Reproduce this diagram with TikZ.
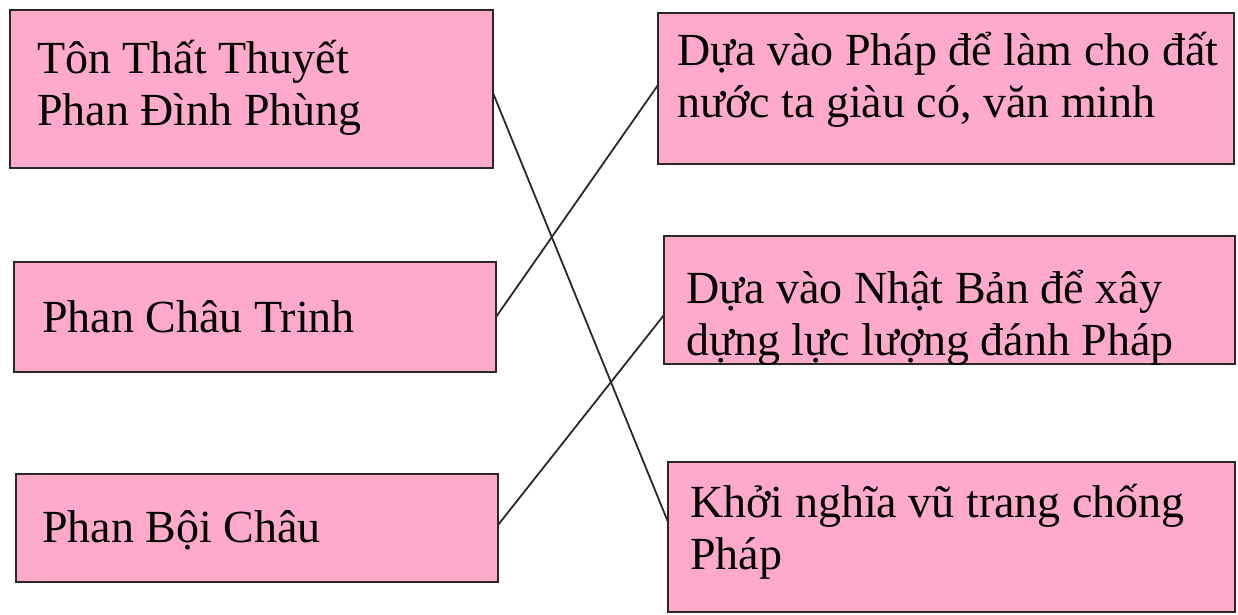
\documentclass[tikz,border=0pt]{standalone}
\usepackage{fontspec}
\setmainfont{Liberation Serif}
\definecolor{boxpink}{RGB}{255,170,202}
\definecolor{edgegray}{RGB}{40,40,40}
\begin{document}
\begin{tikzpicture}[x=1pt,y=-1pt,
  box/.style={draw=edgegray, line width=1.8pt, fill=boxpink, rectangle, inner sep=0pt, outer sep=0pt},
  lbl/.style={anchor=base west, inner sep=0pt, font=\fontsize{46}{52}\selectfont},
  link/.style={draw=edgegray, line width=1.8pt}]
\useasboundingbox (0,0) rectangle (1238,614);
% left column
\node[box, minimum width=483pt, minimum height=158pt] (A) at (251.5,89) {};
\node[box, minimum width=482pt, minimum height=110pt] (B) at (255,317) {};
\node[box, minimum width=482pt, minimum height=108pt] (C) at (257,528) {};
% right column
\node[box, minimum width=576pt, minimum height=151pt] (D) at (946,88.5) {};
\node[box, minimum width=571pt, minimum height=128pt] (E) at (949.5,300) {};
\node[box, minimum width=567pt, minimum height=150pt] (F) at (951.5,537) {};
% texts
\node[lbl] (At) at (37,73) {\begin{tabular}[t]{@{}l@{}}Tôn Thất Thuyết\\Phan Đình Phùng\end{tabular}};
\node[lbl] (Bt) at (42,332) {Phan Châu Trinh};
\node[lbl] (Ct) at (42,542) {Phan Bội Châu};
\node[lbl] (Dt) at (677,65) {\begin{tabular}[t]{@{}l@{}}Dựa vào Pháp để làm cho đất\\nước ta giàu có, văn minh\end{tabular}};
\node[lbl] (Et) at (686,303) {\begin{tabular}[t]{@{}l@{}}Dựa vào Nhật Bản để xây\\dựng lực lượng đánh Pháp\end{tabular}};
\node[lbl] (Ft) at (690,517) {\begin{tabular}[t]{@{}l@{}}Khởi nghĩa vũ trang chống\\Pháp\end{tabular}};
% connectors
\draw[link] ([yshift=-4pt]A.east) -- ([yshift=15pt]F.west);
\draw[link] (B.east) -- ([yshift=3.5pt]D.west);
\draw[link] ([yshift=3pt]C.east) -- ([yshift=-15pt]E.west);
\end{tikzpicture}
\end{document}
